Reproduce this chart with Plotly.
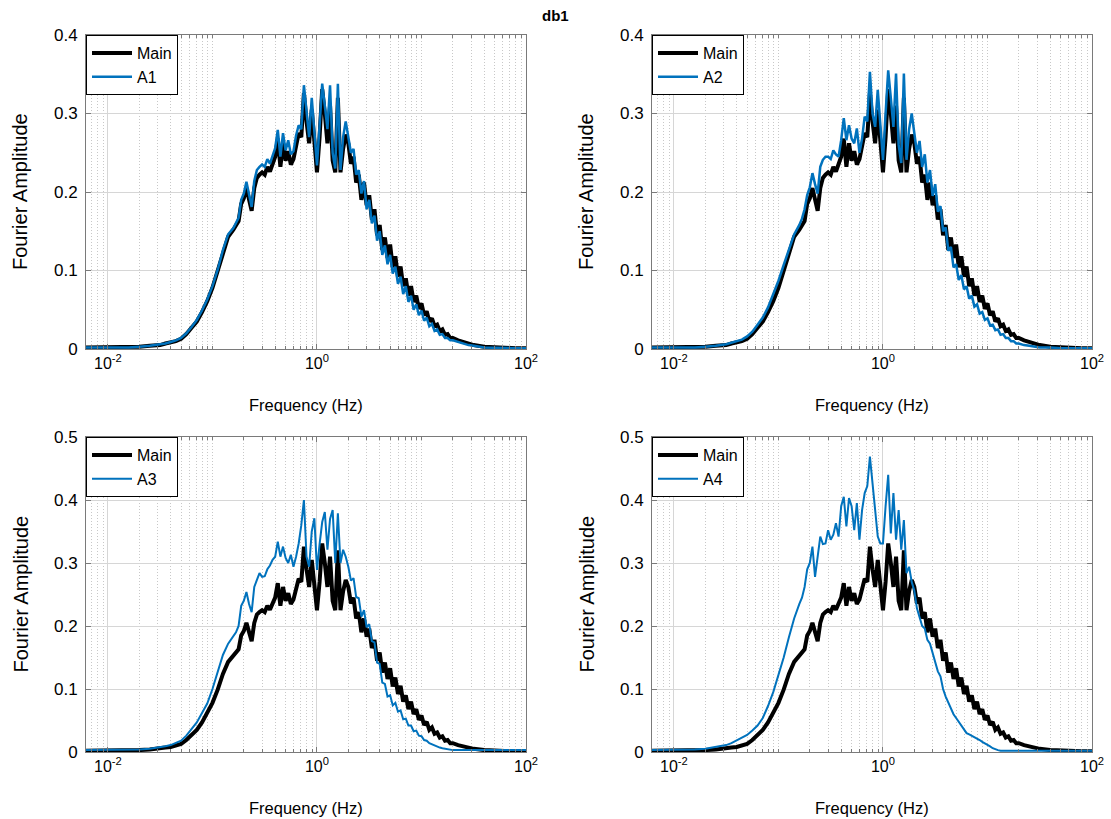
import plotly.graph_objects as go

# Frequency axis (log10 of Hz)
log_f = [-2.21, -2.0, -1.8, -1.7, -1.6, -1.5, -1.45, -1.4, -1.35, -1.3, -1.25, -1.2, -1.15, -1.1, -1.05, -1.0, -0.95, -0.9, -0.85,
         -0.8, -0.775, -0.75, -0.725, -0.7, -0.675, -0.65, -0.625, -0.6, -0.575, -0.55, -0.525, -0.5, -0.475, -0.45, -0.425,
         -0.4, -0.375, -0.35, -0.325, -0.3, -0.275, -0.25, -0.225, -0.2, -0.175, -0.15, -0.125, -0.1, -0.075, -0.05, -0.025,
         0.0, 0.025, 0.05, 0.075, 0.1, 0.125, 0.15, 0.175, 0.2, 0.225, 0.25, 0.275,
         0.3, 0.325, 0.35, 0.375, 0.4, 0.425, 0.45, 0.475, 0.5, 0.525, 0.55, 0.575, 0.6, 0.625, 0.65, 0.675, 0.7, 0.725,
         0.75, 0.775, 0.8, 0.825, 0.85, 0.875, 0.9, 0.925, 0.95, 0.975, 1.0, 1.025, 1.05, 1.075, 1.1, 1.125, 1.15, 1.175,
         1.2, 1.225, 1.25, 1.275, 1.3,
         1.35, 1.4, 1.45, 1.5, 1.6, 1.7, 1.8, 1.9, 2.0]
freq_hz = [10 ** v for v in log_f]

# Fourier amplitude spectra
main = [0.002, 0.002, 0.002, 0.003, 0.004, 0.005, 0.007, 0.008, 0.010, 0.013, 0.019, 0.027, 0.035, 0.047, 0.061, 0.078, 0.099, 0.124, 0.143,
        0.152, 0.158, 0.163, 0.185, 0.192, 0.205, 0.19, 0.176, 0.205, 0.218, 0.222, 0.225, 0.222, 0.232, 0.226, 0.235,
        0.245, 0.268, 0.232, 0.262, 0.24, 0.252, 0.235, 0.242, 0.262, 0.275, 0.27, 0.326, 0.29, 0.262, 0.305, 0.27,
        0.225, 0.27, 0.331, 0.3, 0.262, 0.31, 0.24, 0.225, 0.32, 0.225, 0.255, 0.273,
        0.262, 0.236, 0.245, 0.212, 0.222, 0.19, 0.212, 0.183, 0.196, 0.165, 0.178, 0.145, 0.158, 0.126, 0.142, 0.116, 0.133, 0.104,
        0.118, 0.092, 0.105, 0.08, 0.09, 0.068, 0.08, 0.06, 0.068, 0.051, 0.058, 0.043, 0.048, 0.035, 0.039, 0.029, 0.031, 0.023,
        0.025, 0.018, 0.019, 0.014, 0.014,
        0.011, 0.009, 0.007, 0.005, 0.003, 0.002, 0.0015, 0.001, 0.001]

a1 = [0.002, 0.002, 0.002, 0.003, 0.004, 0.006, 0.007, 0.009, 0.011, 0.014, 0.02, 0.028, 0.037, 0.049, 0.063, 0.08, 0.101, 0.126, 0.146,
      0.154, 0.16, 0.167, 0.19, 0.198, 0.213, 0.196, 0.181, 0.214, 0.228, 0.232, 0.235, 0.232, 0.242, 0.236, 0.245,
      0.256, 0.279, 0.245, 0.275, 0.253, 0.266, 0.248, 0.252, 0.272, 0.285, 0.28, 0.336, 0.3, 0.27, 0.32, 0.28,
      0.234, 0.285, 0.338, 0.31, 0.28, 0.336, 0.25, 0.23, 0.338, 0.228, 0.27, 0.29,
      0.27, 0.25, 0.255, 0.222, 0.228, 0.198, 0.214, 0.178, 0.19, 0.16, 0.17, 0.138, 0.15, 0.12, 0.132, 0.108, 0.12, 0.096,
      0.105, 0.083, 0.092, 0.07, 0.08, 0.06, 0.068, 0.05, 0.057, 0.043, 0.049, 0.036, 0.04, 0.029, 0.032, 0.023, 0.025, 0.018,
      0.019, 0.014, 0.014, 0.011, 0.011,
      0.009, 0.007, 0.005, 0.004, 0.002, 0.0015, 0.001, 0.001, 0.001]

a2 = [0.002, 0.002, 0.002, 0.003, 0.004, 0.006, 0.008, 0.01, 0.012, 0.016, 0.022, 0.031, 0.04, 0.053, 0.069, 0.087, 0.107, 0.128, 0.146,
      0.158, 0.166, 0.178, 0.196, 0.206, 0.224, 0.21, 0.198, 0.232, 0.241, 0.245, 0.245, 0.242, 0.253, 0.248, 0.245,
      0.266, 0.294, 0.266, 0.285, 0.268, 0.262, 0.281, 0.25, 0.268, 0.296, 0.29, 0.353, 0.3, 0.283, 0.33, 0.29,
      0.241, 0.3, 0.355, 0.32, 0.283, 0.351, 0.26, 0.237, 0.351, 0.241, 0.28, 0.3,
      0.275, 0.25, 0.265, 0.232, 0.248, 0.212, 0.228, 0.195, 0.21, 0.175, 0.182, 0.15, 0.155, 0.125, 0.13, 0.104, 0.108, 0.088,
      0.094, 0.076, 0.08, 0.064, 0.068, 0.054, 0.057, 0.045, 0.047, 0.037, 0.039, 0.03, 0.031, 0.024, 0.025, 0.018, 0.019, 0.014,
      0.014, 0.01, 0.01, 0.007, 0.007,
      0.005, 0.004, 0.003, 0.002, 0.002, 0.001, 0.001, 0.001, 0.001]

a3 = [0.003, 0.003, 0.003, 0.004, 0.005, 0.007, 0.009, 0.011, 0.014, 0.018, 0.026, 0.036, 0.047, 0.062, 0.077, 0.1, 0.128, 0.154, 0.172,
      0.184, 0.19, 0.2, 0.232, 0.24, 0.254, 0.235, 0.222, 0.262, 0.272, 0.284, 0.278, 0.279, 0.29, 0.296, 0.305,
      0.31, 0.334, 0.31, 0.326, 0.308, 0.3, 0.313, 0.294, 0.31, 0.331, 0.36, 0.4, 0.31, 0.294, 0.35, 0.371,
      0.289, 0.33, 0.365, 0.381, 0.321, 0.37, 0.384, 0.3, 0.379, 0.3, 0.321, 0.31,
      0.294, 0.272, 0.276, 0.246, 0.244, 0.215, 0.225, 0.198, 0.203, 0.176, 0.174, 0.142, 0.14, 0.11, 0.108, 0.088, 0.09, 0.074,
      0.078, 0.064, 0.066, 0.052, 0.053, 0.042, 0.042, 0.033, 0.034, 0.026, 0.025, 0.019, 0.018, 0.014, 0.012, 0.01, 0.008, 0.007,
      0.006, 0.005, 0.004, 0.004, 0.003,
      0.003, 0.003, 0.003, 0.003, 0.003, 0.003, 0.003, 0.003, 0.003]

a4 = [0.003, 0.003, 0.004, 0.005, 0.008, 0.011, 0.014, 0.018, 0.022, 0.027, 0.034, 0.042, 0.054, 0.073, 0.095, 0.122, 0.15, 0.182, 0.212,
      0.235, 0.245, 0.262, 0.29, 0.3, 0.326, 0.278, 0.31, 0.342, 0.33, 0.331, 0.352, 0.337, 0.345, 0.363, 0.342,
      0.39, 0.405, 0.358, 0.403, 0.39, 0.352, 0.395, 0.337, 0.384, 0.411, 0.422, 0.469, 0.43, 0.38, 0.342, 0.331,
      0.331, 0.39, 0.44, 0.347, 0.411, 0.337, 0.384, 0.321, 0.368, 0.284, 0.294, 0.27,
      0.256, 0.228, 0.215, 0.2, 0.196, 0.178, 0.172, 0.157, 0.145, 0.128, 0.12, 0.1, 0.088, 0.078, 0.068, 0.06, 0.054, 0.048,
      0.043, 0.036, 0.03, 0.028, 0.026, 0.023, 0.021, 0.019, 0.016, 0.014, 0.011, 0.009, 0.006, 0.004, 0.003, 0.002, 0.002, 0.002,
      0.002, 0.002, 0.002, 0.002, 0.002,
      0.002, 0.002, 0.002, 0.002, 0.002, 0.002, 0.002, 0.002, 0.002]

for s in (main, a1, a2, a3, a4):
    assert len(s) == len(log_f), len(s)

series = [("A1", a1), ("A2", a2), ("A3", a3), ("A4", a4)]
blue_width = [2.5, 2.5, 2, 2]
y_max = [0.4, 0.4, 0.5, 0.5]
x_ticks = [0.01, 1, 100]
x_tick_text = ["10<sup>-2</sup>", "10<sup>0</sup>", "10<sup>2</sup>"]
minor_ticks = [k * 10.0 ** d for d in range(-3, 2) for k in range(1, 10)
               if k * 10.0 ** d not in (0.01, 1, 100) and 0.006 < k * 10.0 ** d < 100]

W, H = 1111, 819
BLUE = "#0072BD"
FONT = "Liberation Sans, Arial, Helvetica, sans-serif"
FRAME = "#7a7a7a"

# panel boxes in pixels: (left, right, top, bottom)
boxes = [(86, 526, 35, 349), (652, 1092, 35, 349), (86, 526, 437, 752), (652, 1092, 437, 752)]

fig = go.Figure()
layout = dict(width=W, height=H, margin=dict(l=0, r=0, t=0, b=0, autoexpand=False),
              paper_bgcolor="white", plot_bgcolor="white",
              font=dict(family=FONT, size=16, color="black"), showlegend=True)
annotations = []

for i, ((name, vals), (l, r, t, b)) in enumerate(zip(series, boxes)):
    n = "" if i == 0 else str(i + 1)
    leg = "legend" + n
    fig.add_trace(go.Scatter(x=freq_hz, y=main, mode="lines", name="Main",
                             line=dict(color="black", width=4), xaxis="x" + n, yaxis="y" + n, legend=leg))
    fig.add_trace(go.Scatter(x=freq_hz, y=vals, mode="lines", name=name,
                             line=dict(color=BLUE, width=blue_width[i]), xaxis="x" + n, yaxis="y" + n, legend=leg))
    xd = [l / W, r / W]
    yd = [1 - b / H, 1 - t / H]
    layout["xaxis" + n] = dict(
        type="log", domain=xd, anchor="y" + n, range=[-2.21, 2.0], automargin=False,
        tickmode="array", tickvals=x_ticks, ticktext=x_tick_text,
        ticks="inside", ticklen=5, tickcolor=FRAME,
        showline=True, linecolor=FRAME, linewidth=1, mirror="ticks",
        showgrid=True, gridcolor="#d6d6d6", gridwidth=1, zeroline=False,
        tickfont=dict(size=16, color="black"),
        minor=dict(tickmode="array", tickvals=minor_ticks, ticks="inside", ticklen=3, tickcolor=FRAME,
                   showgrid=True, gridcolor="#c8c8c8", griddash="1px,2px", gridwidth=1),
    )
    layout["yaxis" + n] = dict(
        domain=yd, anchor="x" + n, range=[0, y_max[i]], dtick=0.1, tick0=0, automargin=False,
        ticks="inside", ticklen=5, tickcolor=FRAME, ticklabelstandoff=4,
        showline=True, linecolor=FRAME, linewidth=1, mirror="ticks",
        showgrid=True, gridcolor="#d6d6d6", gridwidth=1, zeroline=False,
        tickfont=dict(size=17, color="black"),
    )
    layout[leg] = dict(x=l / W, y=1 - t / H, xanchor="left", yanchor="top",
                       bgcolor="white", bordercolor="black", borderwidth=1,
                       font=dict(size=16, color="black"), itemwidth=40, tracegroupgap=0)
    annotations.append(dict(text="Fourier Amplitude", textangle=-90, showarrow=False,
                            xref="paper", yref="paper", x=(l - 66) / W, y=1 - (t + b) / 2 / H,
                            xanchor="center", yanchor="middle", font=dict(size=20, color="black")))
    annotations.append(dict(text="Frequency (Hz)", showarrow=False,
                            xref="paper", yref="paper", x=(l + r) / 2 / W, y=1 - (b + 56) / H,
                            xanchor="center", yanchor="middle", font=dict(size=16.5, color="black")))

annotations.append(dict(text="<b>db1</b>", showarrow=False, xref="paper", yref="paper",
                        x=555 / W, y=1 - 15 / H, xanchor="center", yanchor="middle",
                        font=dict(size=15, color="black")))
layout["annotations"] = annotations
fig.update_layout(**layout)

fig.write_html("out.html")
